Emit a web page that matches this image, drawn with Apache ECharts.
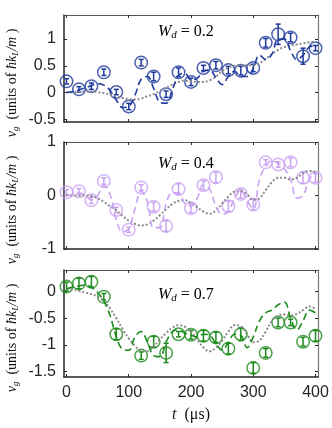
<!DOCTYPE html>
<html>
<head>
<meta charset="utf-8">
<script src="https://cdn.jsdelivr.net/npm/echarts@6/dist/echarts.min.js"></script>
<style>
  html, body { margin: 0; padding: 0; background: #fff; }
  #chart { width: 332px; height: 428px; }
</style>
</head>
<body>
<div id="chart"></div>
<script>
// measured times (us)
var tPts = [0, 20, 40, 60, 80, 100, 120, 140, 160, 180, 200, 220, 240, 260, 280, 300, 320, 340, 360, 380, 400];
var tPts3 = [0, 20, 40, 60, 80, 120, 140, 160, 180, 200, 220, 240, 260, 280, 300, 320, 340, 360, 380, 400];
// theory curves sampled every 10 us
var tCurve = [0, 10, 20, 30, 40, 50, 60, 70, 80, 90, 100, 110, 120, 130, 140, 150, 160, 170, 180, 190, 200,
              210, 220, 230, 240, 250, 260, 270, 280, 290, 300, 310, 320, 330, 340, 350, 360, 370, 380, 390, 400];

// W_d = 0.2
var v1 = [0.21, 0.06, 0.12, 0.38, 0.01, -0.26, 0.56, 0.30, -0.03, 0.38, 0.20, 0.46, 0.51, 0.42, 0.41, 0.46, 0.93, 1.09, 1.03, 0.68, 0.83];
var e1 = [0.05, 0.05, 0.06, 0.06, 0.05, 0.06, 0.06, 0.08, 0.06, 0.08, 0.07, 0.05, 0.07, 0.07, 0.08, 0.07, 0.08, 0.19, 0.08, 0.15, 0.05];
var dash1 = [0, 0.02, 0.05, 0.09, 0.13, 0.17, 0.14, 0.04, -0.14, -0.28, -0.26, -0.05, 0.25, 0.3, 0.08, -0.18, -0.2, 0.05, 0.32, 0.36, 0.24,
             0.27, 0.4, 0.42, 0.28, 0.15, 0.3, 0.4, 0.3, 0.3, 0.45, 0.7, 0.62, 0.72, 1.0, 1.0, 0.78, 0.62, 0.7, 0.85, 0.88];
var dot1 = [0, 0.005, 0.01, 0.02, 0.02, 0.01, -0.01, -0.04, -0.07, -0.1, -0.12, -0.13, -0.11, -0.07, -0.03, 0.03, 0.09, 0.15, 0.2, 0.22, 0.21,
            0.2, 0.2, 0.23, 0.3, 0.4, 0.47, 0.5, 0.51, 0.51, 0.51, 0.55, 0.63, 0.72, 0.8, 0.85, 0.88, 0.9, 0.92, 0.94, 0.95];

// W_d = 0.4
var v2 = [0.06, 0.08, -0.09, 0.27, -0.27, -0.64, 0.15, -0.21, -0.57, 0.12, -0.24, 0.19, 0.34, -0.2, 0.03, -0.17, 0.62, 0.58, 0.62, 0.33, 0.33];
var e2 = [0.05, 0.05, 0.06, 0.06, 0.05, 0.05, 0.05, 0.08, 0.1, 0.1, 0.08, 0.08, 0.1, 0.1, 0.08, 0.1, 0.05, 0.05, 0.08, 0.1, 0.08];
var dash2 = [0, 0.02, 0.05, 0, -0.08, 0, 0.18, 0.02, -0.45, -0.68, -0.62, -0.25, 0.08, -0.12, -0.6, -0.6, -0.15, 0.05, 0.05, -0.15, -0.2,
             -0.05, 0.2, 0.12, -0.2, -0.35, -0.3, -0.05, 0.1, -0.1, -0.25, 0.3, 0.55, 0.65, 0.6, 0.5, 0.3, -0.05, 0, 0.3, 0.42];
var dot2 = [0, 0, 0, 0, -0.01, -0.05, -0.12, -0.2, -0.28, -0.38, -0.47, -0.53, -0.56, -0.54, -0.47, -0.37, -0.26, -0.16, -0.1, -0.09, -0.14,
            -0.22, -0.3, -0.34, -0.28, -0.15, -0.02, 0.07, 0.08, 0.02, -0.08, -0.05, 0.1, 0.25, 0.33, 0.33, 0.3, 0.33, 0.42, 0.46, 0.44];

// W_d = 0.7
var v3 = [0.09, 0.15, 0.18, -0.1, -0.8, -1.2, -0.94, -1.15, -0.8, -0.81, -0.83, -0.86, -1.07, -0.8, -1.43, -1.15, -0.58, -0.58, -0.94, -0.83];
var e3 = [0.08, 0.1, 0.1, 0.06, 0.1, 0.07, 0.1, 0.18, 0.05, 0.08, 0.1, 0.1, 0.1, 0.12, 0.1, 0.08, 0.08, 0.06, 0.08, 0.1];
var dash3 = [0.05, 0.08, 0.1, 0.12, 0.08, -0.02, -0.18, -0.45, -0.85, -1.08, -1.1, -0.85, -0.75, -0.95, -1.2, -1.22, -0.95, -0.75, -0.72, -0.78, -0.82,
             -0.85, -0.8, -0.82, -0.98, -1.1, -0.95, -0.8, -0.82, -1.05, -0.85, -0.55, -0.4, -0.35, -0.25, -0.2, -0.5, -0.72, -0.55, -0.35, -0.4];
var dot3 = [0.03, 0.03, 0.01, -0.02, -0.05, -0.1, -0.18, -0.32, -0.5, -0.7, -0.88, -1.02, -1.11, -1.12, -1.03, -0.9, -0.78, -0.68, -0.63, -0.66, -0.75,
            -0.9, -1.05, -1.12, -1.05, -0.92, -0.75, -0.63, -0.65, -0.8, -0.95, -0.92, -0.75, -0.55, -0.45, -0.43, -0.45, -0.42, -0.35, -0.28, -0.33];

var xTicks = [0, 100, 200, 300, 400];
var yTicks1 = [-0.5, 0, 0.5, 1];
var yTicks2 = [-1, 0, 1];
var yTicks3 = [-1.5, -1, -0.5, 0];

var panels = [
    { t: tPts, v: v1, e: e1, dash: dash1, dot: dot1, color: '#1f3a9c', ymin: -0.55, ymax: 1.45, yTicks: yTicks1, top: 15, label: '0.2', ly: 32 },
    { t: tPts, v: v2, e: e2, dash: dash2, dot: dot2, color: '#c9a3f2', ymin: -1, ymax: 1, yTicks: yTicks2, top: 142, label: '0.4', ly: 164 },
    { t: tPts3, v: v3, e: e3, dash: dash3, dot: dot3, color: '#1a8a1a', ymin: -1.6, ymax: 0.4, yTicks: yTicks3, top: 270, label: '0.7', ly: 295 }
];

var chart = echarts.init(document.getElementById('chart'));

var grids = [], xAxes = [], yAxes = [], series = [], graphics = [];
var tickColor = '#262626';

function pairs(xs, ys) {
    return xs.map(function (x, i) { return [x, ys[i]]; });
}

panels.forEach(function (p, i) {
    grids.push({ left: 64, width: 254, top: p.top, height: 107 });
    var last = i === panels.length - 1;
    // bottom + top x axes
    xAxes.push({
        gridIndex: i, type: 'value', min: -4, max: 404, position: 'bottom',
        splitLine: { show: false },
        axisLine: { show: true, onZero: false, lineStyle: { color: tickColor, width: 1.5 } },
        axisTick: { inside: true, length: 3, customValues: xTicks, lineStyle: { color: tickColor } },
        axisLabel: { show: last, customValues: xTicks, margin: 8, fontSize: 16, color: tickColor, fontFamily: 'Liberation Sans' }
    });
    xAxes.push({
        gridIndex: i, type: 'value', min: -4, max: 404, position: 'top',
        splitLine: { show: false },
        axisLine: { show: true, onZero: false, lineStyle: { color: '#555', width: 1.2 } },
        axisTick: { inside: true, length: 3, customValues: xTicks, lineStyle: { color: tickColor } },
        axisLabel: { show: false }
    });
    // left + right y axes
    yAxes.push({
        gridIndex: i, type: 'value', min: p.ymin, max: p.ymax, position: 'left',
        splitLine: { show: false },
        axisLine: { show: true, onZero: false, lineStyle: { color: tickColor, width: 1.5 } },
        axisTick: { show: true, inside: true, length: 3, customValues: p.yTicks, lineStyle: { color: tickColor } },
        axisLabel: { customValues: p.yTicks, margin: 8, fontSize: 16, color: tickColor, fontFamily: 'Liberation Sans' }
    });
    yAxes.push({
        gridIndex: i, type: 'value', min: p.ymin, max: p.ymax, position: 'right',
        splitLine: { show: false },
        axisLine: { show: true, onZero: false, lineStyle: { color: '#777', width: 1.2 } },
        axisTick: { show: true, inside: true, length: 3, customValues: p.yTicks, lineStyle: { color: tickColor } },
        axisLabel: { show: false }
    });

    var xi = i * 2, yi = i * 2;
    series.push({
        type: 'line', xAxisIndex: xi, yAxisIndex: yi, data: pairs(tCurve, p.dot),
        smooth: 0.4, symbol: 'none', lineStyle: { color: '#8a8a8a', width: 2, type: [2, 2] }
    });
    series.push({
        type: 'line', xAxisIndex: xi, yAxisIndex: yi, data: pairs(tCurve, p.dash),
        smooth: 0.4, symbol: 'none', lineStyle: { color: p.color, width: 1.6, type: [7, 4] }
    });
    // error bars
    series.push({
        type: 'custom', xAxisIndex: xi, yAxisIndex: yi,
        data: p.t.map(function (t, k) { return [t, p.v[k], p.e[k]]; }),
        renderItem: function (params, api) {
            var x = api.value(0), y = api.value(1), e = api.value(2);
            var hi = api.coord([x, y + e]);
            var lo = api.coord([x, y - e]);
            var st = { stroke: p.color, lineWidth: 1.5 };
            return {
                type: 'group',
                children: [
                    { type: 'line', shape: { x1: hi[0], y1: hi[1], x2: lo[0], y2: lo[1] }, style: st },
                    { type: 'line', shape: { x1: hi[0] - 2.5, y1: hi[1], x2: hi[0] + 2.5, y2: hi[1] }, style: st },
                    { type: 'line', shape: { x1: lo[0] - 2.5, y1: lo[1], x2: lo[0] + 2.5, y2: lo[1] }, style: st }
                ]
            };
        }
    });
    series.push({
        type: 'scatter', xAxisIndex: xi, yAxisIndex: yi, data: pairs(p.t, p.v),
        symbol: 'circle', symbolSize: 12.5,
        itemStyle: { color: 'transparent', borderColor: p.color, borderWidth: 1.5 }
    });

    // W_d annotation
    graphics.push({
        type: 'text', x: 158, y: p.ly,
        style: {
            text: '{i|W}{s|d}{n| = ' + p.label + '}',
            verticalAlign: 'middle',
            rich: {
                i: { fontFamily: 'Liberation Serif', fontStyle: 'italic', fontSize: 16, lineHeight: 18, fill: '#000' },
                s: { fontFamily: 'Liberation Serif', fontStyle: 'italic', fontSize: 11, lineHeight: 10, verticalAlign: 'bottom', fill: '#000' },
                n: { fontFamily: 'Liberation Serif', fontSize: 16, lineHeight: 18, fill: '#000' }
            }
        }
    });
    // y axis title
    graphics.push({
        type: 'text', x: 12, y: p.top + 68, rotation: Math.PI / 2,
        style: {
            text: '{i|v}{s|g}{n|  (units of }{i|ħk}{s|L}{i|/m}{n| )}',
            align: 'center', verticalAlign: 'middle',
            rich: {
                i: { fontFamily: 'Liberation Serif', fontStyle: 'italic', fontSize: 14, lineHeight: 16, fill: '#111' },
                s: { fontFamily: 'Liberation Serif', fontStyle: 'italic', fontSize: 9, lineHeight: 9, verticalAlign: 'bottom', fill: '#111' },
                n: { fontFamily: 'Liberation Serif', fontSize: 14, lineHeight: 16, fill: '#111' }
            }
        }
    });
});

// x axis title
graphics.push({
    type: 'text', x: 191, y: 415,
    style: {
        text: '{i|t}{n|  (μs)}',
        align: 'center', verticalAlign: 'middle',
        rich: {
            i: { fontFamily: 'Liberation Serif', fontStyle: 'italic', fontSize: 16, fill: '#111' },
            n: { fontFamily: 'Liberation Serif', fontSize: 16, fill: '#111' }
        }
    }
});

chart.setOption({
    animation: false,
    grid: grids,
    xAxis: xAxes,
    yAxis: yAxes,
    series: series,
    graphic: graphics
});
</script>
</body>
</html>
